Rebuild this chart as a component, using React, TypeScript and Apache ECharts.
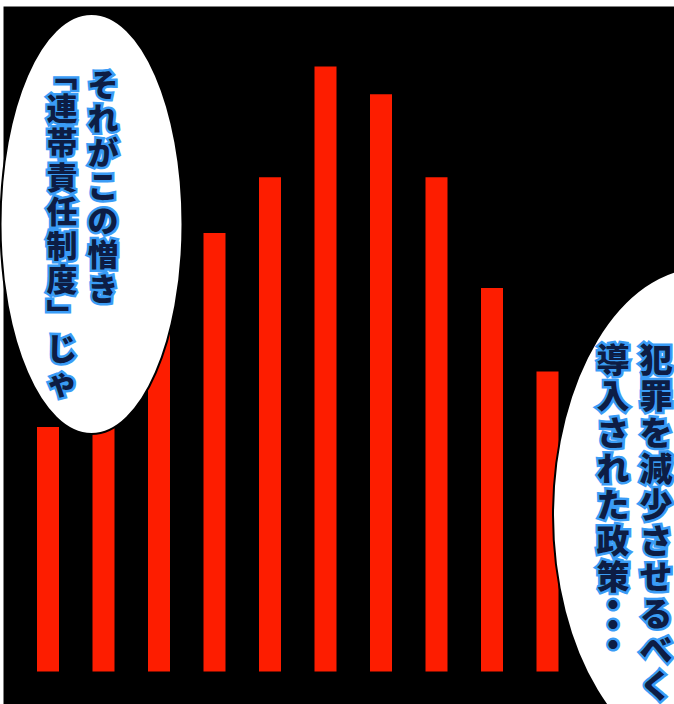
import React, { useEffect, useRef } from "react";
import * as echarts from "echarts";

// Data
const categories = ["1", "2", "3", "4", "5", "6", "7", "8", "9", "10"];
const values = [40.4, 45, 56, 72.5, 81.7, 100, 95.4, 81.7, 63.4, 49.6];

// Speech bubble texts (vertical writing, columns right to left)
const leftBubbleCols = ["それがこの憎き", "﹁連帯責任制度﹂じゃ"];
const rightBubbleCols = ["犯罪を減少させるべく", "導入された政策"];
const rightDots = "●●●";

const FILL = "#0d1d44";
const HALO = "#3a9cf6";

function vText(str: string, x: number, y: number, size: number, lh: number) {
  return {
    type: "text",
    z: 101,
    style: {
      text: Array.from(str).join("\n"),
      x,
      y,
      fill: FILL,
      stroke: HALO,
      lineWidth: 5,
      shadowColor: "rgba(120,200,255,0.8)",
      shadowBlur: 4,
      fontSize: size,
      fontWeight: 900,
      fontFamily: '"Noto Sans CJK JP", sans-serif',
      lineHeight: lh,
      align: "center",
      verticalAlign: "top",
    },
  };
}

export default function App() {
  const ref = useRef<HTMLDivElement>(null);
  useEffect(() => {
    if (!ref.current) return;
    const chart = echarts.init(ref.current, undefined, { renderer: "svg" });
    chart.setOption({
      animation: false,
      backgroundColor: "#000000",
      grid: { left: 20.25, right: 98.75, top: 6, bottom: 32.5 },
      xAxis: {
        type: "category",
        data: categories,
        show: false,
      },
      yAxis: {
        type: "value",
        min: 0,
        max: 110,
        show: false,
        splitLine: { show: false },
      },
      series: [
        {
          type: "bar",
          data: values,
          barWidth: 22,
          itemStyle: { color: "#fd1d00" },
          z: 2,
        },
      ],
      graphic: [
        { type: "rect", z: 50, shape: { x: 0, y: 0, width: 674, height: 6.5 }, style: { fill: "#ffffff" } },
        { type: "rect", z: 50, shape: { x: 0, y: 0, width: 3.5, height: 704 }, style: { fill: "#ffffff" } },
        {
          type: "ellipse",
          z: 100,
          shape: { cx: 91.5, cy: 224, rx: 91, ry: 210 },
          style: { fill: "#ffffff", stroke: "#000000", lineWidth: 2 },
        },
        {
          type: "ellipse",
          z: 100,
          shape: { cx: 703, cy: 515, rx: 150, ry: 248 },
          style: { fill: "#ffffff", stroke: "#000000", lineWidth: 2 },
        },
        vText(leftBubbleCols[0], 103, 65, 31, 34),
        vText(leftBubbleCols[1], 62, 55, 31, 34.3),
        vText(rightBubbleCols[0], 656, 340, 33, 36.2),
        vText(rightBubbleCols[1], 613, 340, 33, 36.2),
        vText(rightDots, 613, 594, 10, 20),
      ],
    });
    return () => chart.dispose();
  }, []);
  return (
    <div
      ref={ref}
      style={{ position: "fixed", left: 0, top: 0, width: 674, height: 704 }}
    />
  );
}
